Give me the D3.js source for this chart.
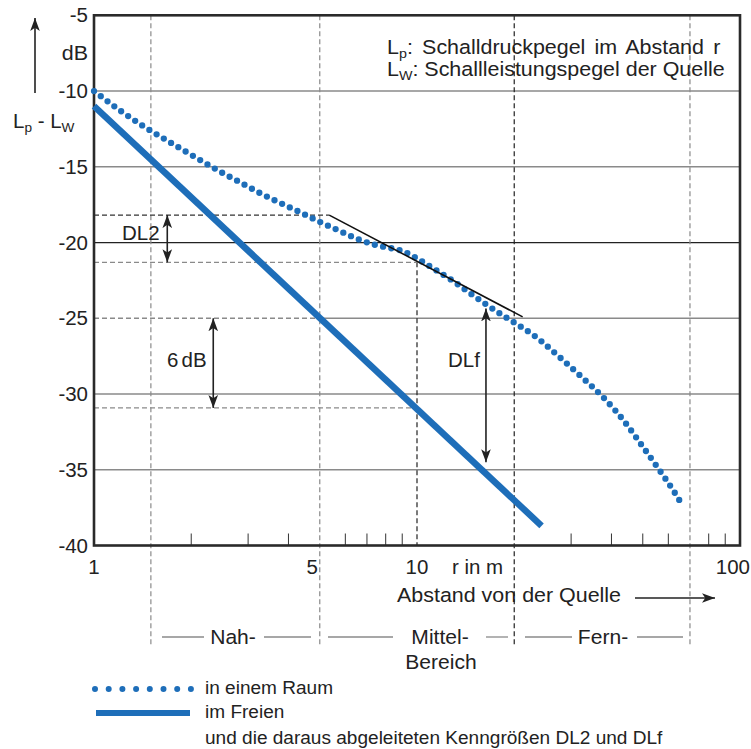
<!DOCTYPE html>
<html>
<head>
<meta charset="utf-8">
<script src="https://cdn.jsdelivr.net/npm/d3@7"></script>
<style>
  body { margin: 0; background: #fff; }
  svg { display: block; }
  text { font-family: "Liberation Sans", Arial, sans-serif; fill: #222; }
</style>
</head>
<body>
<div id="chart"></div>
<script>
// sound level vs. distance, room vs. free field

var svgWidth = 751;
var svgHeight = 749;

// plot box
var margin = { top: 15.3, left: 94, right: 11, bottom: 203.5 };
var width = svgWidth - margin.left - margin.right;
var height = svgHeight - margin.top - margin.bottom;

// data
var yTicks = [-5, -10, -15, -20, -25, -30, -35, -40];
var xLabels = [1, 5, 10, 100];
var minorTicks = [2, 3, 4, 6, 7, 8, 9, 30, 40, 50, 60, 80, 90];

// room ("in einem Raum"), dotted
var roomR = [1, 1.2, 1.42, 1.7, 2.03, 2.42, 2.9, 3.28, 3.72, 4.21, 4.46, 5.04, 5.74, 6.52, 7.41, 8.5, 9.06, 9.64, 10.2, 11.5, 12.95, 14.5, 16.1, 18.1, 20.4, 22.9, 24.2, 28.2, 32.9, 38.2, 43.7, 49.4, 55.7, 62.6, 64.9];
var roomDb = [-10, -11.26, -12.31, -13.32, -14.29, -15.24, -16.14, -16.76, -17.33, -17.86, -18.12, -18.67, -19.22, -19.75, -20.15, -20.42, -20.57, -20.86, -21.16, -21.85, -22.55, -23.3, -23.98, -24.7, -25.4, -26.1, -26.5, -27.73, -29.02, -30.34, -31.77, -33.32, -34.88, -36.47, -37.01];

// free field ("im Freien"), solid
var freeR = [1, 24.3];
var freeDb = [-11, -38.7];

// tangent (black)
var tangentR = [5.35, 21.24];
var tangentDb = [-18.19, -24.91];

// grid
var gridDb = [-10, -15, -20, -25, -30, -35];
var vLines = [1.5, 5, 10, 20, 70];

var svg = d3.select("#chart")
    .append("svg")
    .attr("width", svgWidth)
    .attr("height", svgHeight);

var defs = svg.append("defs");
defs.append("marker")
    .attr("id", "head")
    .attr("viewBox", "0 0 10 10")
    .attr("refX", 10)
    .attr("refY", 5)
    .attr("markerWidth", 13)
    .attr("markerHeight", 13)
    .attr("markerUnits", "userSpaceOnUse")
    .attr("orient", "auto-start-reverse")
    .append("path")
    .attr("d", "M0,1.3 L10,5 L0,8.7 L2.5,5 Z")
    .attr("fill", "#222");

// text helper: the reference lettering is a bit wider than Liberation Sans
function addText(str, tx, ty, size, sx, anchor) {
    return svg.append("text")
        .attr("transform", `translate(${tx},${ty}) scale(${sx},1)`)
        .attr("text-anchor", anchor || "start")
        .style("font-size", size + "px")
        .text(str);
}

var x = d3.scaleLog().domain([1, 100]).range([margin.left, margin.left + width]);
var y = d3.scaleLinear().domain([-40, -5]).range([margin.top + height, margin.top]);

var grid = svg.append("g");

// horizontal grid
gridDb.forEach(function(v) {
    var x0 = v === -25 ? x(5) : x(1);
    grid.append("line")
        .attr("x1", x0).attr("x2", x(100))
        .attr("y1", y(v)).attr("y2", y(v))
        .attr("stroke", v === -20 ? "#222" : "#8a8a8a")
        .attr("stroke-width", v === -20 ? 1.2 : 1.6);
});

// vertical dashed lines
vLines.forEach(function(r) {
    var dark = (r === 10 || r === 20);
    grid.append("line")
        .attr("x1", x(r)).attr("x2", x(r))
        .attr("y1", r === 10 ? y(-21.31) : y(-5))
        .attr("y2", r === 10 ? y(-40) : 645)
        .attr("stroke", dark ? "#222" : "#8a8a8a")
        .attr("stroke-width", 1.2)
        .attr("stroke-dasharray", "5,3");
});

// helper dashed horizontals
var helpers = [
    { db: -18.19, r1: 5.35, c: "#333" },
    { db: -21.31, r1: 10, c: "#8a8a8a" },
    { db: -25, r1: 5, c: "#8a8a8a" },
    { db: -30.92, r1: 10, c: "#8a8a8a" }
];
helpers.forEach(function(h) {
    grid.append("line")
        .attr("x1", x(1)).attr("x2", x(h.r1))
        .attr("y1", y(h.db)).attr("y2", y(h.db))
        .attr("stroke", h.c)
        .attr("stroke-width", 1.3)
        .attr("stroke-dasharray", "5,3");
});

// minor ticks
minorTicks.forEach(function(r) {
    grid.append("line")
        .attr("x1", x(r)).attr("x2", x(r))
        .attr("y1", y(-40)).attr("y2", y(-40) - 12)
        .attr("stroke", "#333")
        .attr("stroke-width", 1);
});

// frame
svg.append("rect")
    .attr("x", x(1)).attr("y", y(-5))
    .attr("width", width).attr("height", height)
    .attr("fill", "none")
    .attr("stroke", "#2a2a2a")
    .attr("stroke-width", 2.6);

// y labels
yTicks.forEach(function(d) {
    addText("-" + Math.abs(d), 88, y(d) + 7, 19.5, 1.05, "end");
});

// x labels
xLabels.forEach(function(d) {
    var tx = d === 100 ? 750 : d === 5 ? 318 : x(d);
    var anchor = (d === 100 || d === 5) ? "end" : "middle";
    addText(String(d), tx, 574, 19.5, 1.05, anchor);
});

addText("r in m", 452, 574, 19.5, 1.05);
addText("Abstand von der Quelle", 397, 602, 19.5, 1.1);

svg.append("line")
    .attr("x1", 635).attr("x2", 715)
    .attr("y1", 598).attr("y2", 598)
    .attr("stroke", "#222").attr("stroke-width", 1.6)
    .attr("marker-end", "url(#head)");

// y axis title
svg.append("line")
    .attr("x1", 35).attr("x2", 35)
    .attr("y1", 93).attr("y2", 18)
    .attr("stroke", "#222").attr("stroke-width", 1.6)
    .attr("marker-end", "url(#head)");

addText("dB", 88, 60, 19.5, 1.1, "end");

var lpLw = addText("", 13, 128, 19.5, 1.05);
lpLw.append("tspan").text("L");
lpLw.append("tspan").attr("dy", 4).style("font-size", "13px").text("p");
lpLw.append("tspan").attr("dy", -4).text(" - L");
lpLw.append("tspan").attr("dy", 4).style("font-size", "13px").text("W");

// top right notes
var note1 = addText("", 387, 54, 19.5, 1.1).style("word-spacing", "3px");
note1.append("tspan").text("L");
note1.append("tspan").attr("dy", 4).style("font-size", "13px").text("p");
note1.append("tspan").attr("dy", -4).text(": Schalldruckpegel im Abstand r");

var note2 = addText("", 387, 76, 19.5, 1.1);
note2.append("tspan").text("L");
note2.append("tspan").attr("dy", 4).style("font-size", "13px").text("W");
note2.append("tspan").attr("dy", -4).text(": Schallleistungspegel der Quelle");

// series
var room = roomR.map((r, i) => [r, roomDb[i]]);
var free = freeR.map((r, i) => [r, freeDb[i]]);
var tangent = tangentR.map((r, i) => [r, tangentDb[i]]);

var line = d3.line()
    .x(d => x(d[0]))
    .y(d => y(d[1]))
    .curve(d3.curveMonotoneX);

svg.append("path")
    .datum(free)
    .attr("d", line)
    .attr("fill", "none")
    .attr("stroke", "#1e6eb9")
    .attr("stroke-width", 6.5);

svg.append("path")
    .datum(room)
    .attr("d", line)
    .attr("fill", "none")
    .attr("stroke", "#1e6eb9")
    .attr("stroke-width", 6.3)
    .attr("stroke-linecap", "round")
    .attr("stroke-dasharray", "0,8.45");

svg.append("path")
    .datum(tangent)
    .attr("d", line)
    .attr("fill", "none")
    .attr("stroke", "#111")
    .attr("stroke-width", 1.6);

// double arrows
var arrows = [
    { r: 1.686, d1: -18.19, d2: -21.31 },
    { r: 2.34, d1: -25, d2: -30.92 },
    { r: 16.35, d1: -24.35, d2: -34.5 }
];
arrows.forEach(function(a) {
    svg.append("line")
        .attr("x1", x(a.r)).attr("x2", x(a.r))
        .attr("y1", y(a.d1)).attr("y2", y(a.d2))
        .attr("stroke", "#222").attr("stroke-width", 1.6)
        .attr("marker-start", "url(#head)")
        .attr("marker-end", "url(#head)");
});

addText("DL2", 122, 240, 19.5, 1.05);
var sixDb = addText("", 167, 367, 19.5, 1.05);
sixDb.append("tspan").text("6");
sixDb.append("tspan").attr("dx", 3).text("dB");
addText("DLf", 448, 367, 19.5, 1.05);

// region labels below the axis
var regions = [
    { t: "Nah-", cx: 233, segs: [[162, 204], [264, 311]] },
    { t: "Mittel-", cx: 440, segs: [[328, 393], [486, 508]] },
    { t: "Fern-", cx: 603, segs: [[525, 572], [637, 683]] }
];
regions.forEach(function(g) {
    g.segs.forEach(function(s) {
        svg.append("line")
            .attr("x1", s[0]).attr("x2", s[1])
            .attr("y1", 637).attr("y2", 637)
            .attr("stroke", "#8a8a8a").attr("stroke-width", 1.3);
    });
    addText(g.t, g.cx, 644, 19.5, 1.08, "middle");
});
addText("Bereich", 441, 669, 19.5, 1.08, "middle");

// legend
svg.append("line")
    .attr("x1", 95).attr("x2", 191)
    .attr("y1", 689).attr("y2", 689)
    .attr("stroke", "#1e6eb9").attr("stroke-width", 6)
    .attr("stroke-linecap", "round")
    .attr("stroke-dasharray", "0,13.7");
addText("in einem Raum", 205, 694, 18.5, 1.03);

svg.append("line")
    .attr("x1", 96).attr("x2", 190)
    .attr("y1", 713).attr("y2", 713)
    .attr("stroke", "#1e6eb9").attr("stroke-width", 6);
addText("im Freien", 205, 718, 18.5, 1.03);

addText("und die daraus abgeleiteten Kenngrößen DL2 und DLf", 205, 744, 18.5, 1.03);
</script>
</body>
</html>
